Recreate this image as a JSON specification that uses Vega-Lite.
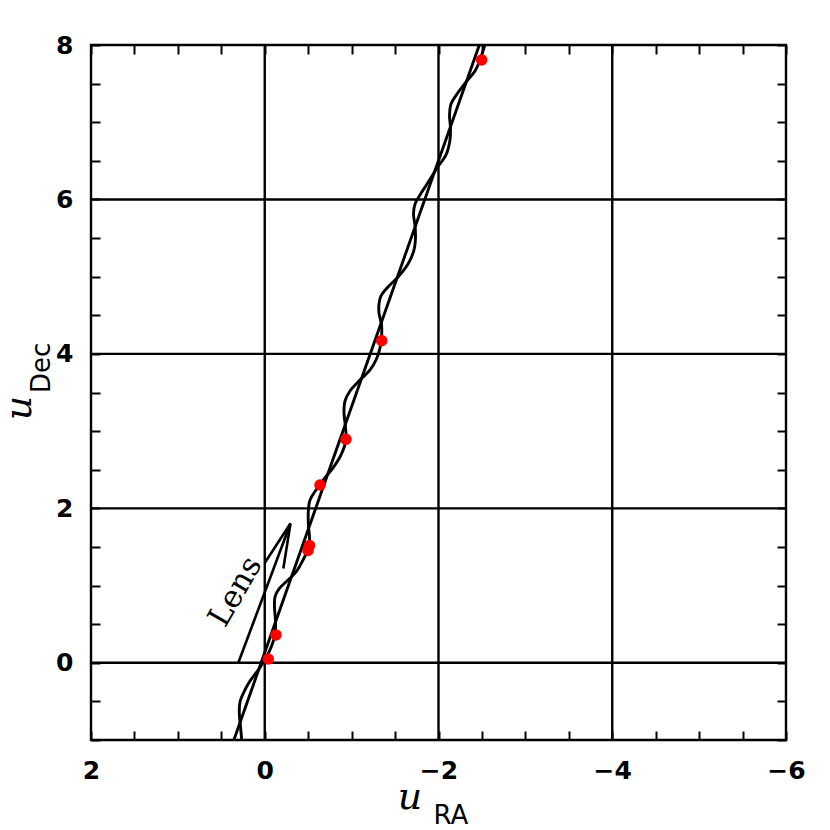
{
  "$schema": "https://vega.github.io/schema/vega-lite/v6.json",
  "width": 695,
  "height": 695,
  "autosize": {"type": "none"},
  "padding": {"left": 91, "top": 45, "right": 44, "bottom": 90},
  "background": "white",
  "config": {
    "view": {"stroke": "black", "strokeWidth": 2.4},
    "axis": {"labelColor": "black", "tickColor": "black", "domain": false, "grid": false}
  },
  "datasets": {
    "straight": [
      {"i": 0, "x": 0.365, "y": -1.03},
      {"i": 1, "x": -2.47, "y": 8.0},
      {"i": 2, "x": -2.5, "y": 8.1}
    ],
    "wavy": [
      {"i": 1, "x": 0.262, "y": -1.03},
      {"i": 2, "x": 0.279, "y": -0.831},
      {"i": 3, "x": 0.293, "y": -0.637},
      {"i": 4, "x": 0.285, "y": -0.508},
      {"i": 5, "x": 0.239, "y": -0.378},
      {"i": 6, "x": 0.170, "y": -0.236},
      {"i": 7, "x": 0.101, "y": -0.132},
      {"i": 8, "x": 0.043, "y": -0.041},
      {"i": 9, "x": -0.026, "y": 0.088},
      {"i": 10, "x": -0.083, "y": 0.231},
      {"i": 11, "x": -0.118, "y": 0.360},
      {"i": 12, "x": -0.124, "y": 0.541},
      {"i": 13, "x": -0.112, "y": 0.723},
      {"i": 14, "x": -0.118, "y": 0.852},
      {"i": 15, "x": -0.164, "y": 0.956},
      {"i": 16, "x": -0.268, "y": 1.072},
      {"i": 17, "x": -0.360, "y": 1.176},
      {"i": 18, "x": -0.452, "y": 1.357},
      {"i": 19, "x": -0.509, "y": 1.500},
      {"i": 20, "x": -0.515, "y": 1.629},
      {"i": 21, "x": -0.504, "y": 1.759},
      {"i": 22, "x": -0.501, "y": 1.953},
      {"i": 23, "x": -0.521, "y": 2.108},
      {"i": 24, "x": -0.590, "y": 2.238},
      {"i": 25, "x": -0.682, "y": 2.380},
      {"i": 26, "x": -0.786, "y": 2.523},
      {"i": 27, "x": -0.878, "y": 2.691},
      {"i": 28, "x": -0.935, "y": 2.885},
      {"i": 29, "x": -0.929, "y": 3.054},
      {"i": 30, "x": -0.912, "y": 3.248},
      {"i": 31, "x": -0.924, "y": 3.390},
      {"i": 32, "x": -0.981, "y": 3.520},
      {"i": 33, "x": -1.096, "y": 3.662},
      {"i": 34, "x": -1.212, "y": 3.792},
      {"i": 35, "x": -1.286, "y": 3.934},
      {"i": 36, "x": -1.327, "y": 4.077},
      {"i": 37, "x": -1.344, "y": 4.206},
      {"i": 38, "x": -1.344, "y": 4.375},
      {"i": 39, "x": -1.315, "y": 4.530},
      {"i": 40, "x": -1.315, "y": 4.646},
      {"i": 41, "x": -1.338, "y": 4.750},
      {"i": 42, "x": -1.419, "y": 4.867},
      {"i": 43, "x": -1.534, "y": 4.996},
      {"i": 44, "x": -1.649, "y": 5.164},
      {"i": 45, "x": -1.718, "y": 5.346},
      {"i": 46, "x": -1.735, "y": 5.501},
      {"i": 47, "x": -1.730, "y": 5.657},
      {"i": 48, "x": -1.712, "y": 5.812},
      {"i": 49, "x": -1.730, "y": 5.942},
      {"i": 50, "x": -1.787, "y": 6.058},
      {"i": 51, "x": -1.868, "y": 6.200},
      {"i": 52, "x": -1.983, "y": 6.408},
      {"i": 53, "x": -2.086, "y": 6.576},
      {"i": 54, "x": -2.132, "y": 6.770},
      {"i": 55, "x": -2.138, "y": 6.926},
      {"i": 56, "x": -2.127, "y": 7.081},
      {"i": 57, "x": -2.144, "y": 7.236},
      {"i": 58, "x": -2.213, "y": 7.366},
      {"i": 59, "x": -2.317, "y": 7.521},
      {"i": 60, "x": -2.420, "y": 7.664},
      {"i": 61, "x": -2.478, "y": 7.806},
      {"i": 62, "x": -2.535, "y": 8.000},
      {"i": 63, "x": -2.570, "y": 8.090}
    ],
    "points": [
      {"x": -0.041, "y": 0.049},
      {"x": -0.129, "y": 0.360},
      {"x": -0.515, "y": 1.519},
      {"x": -0.498, "y": 1.454},
      {"x": -0.636, "y": 2.302},
      {"x": -0.935, "y": 2.894},
      {"x": -1.346, "y": 4.171},
      {"x": -2.497, "y": 7.806}
    ],
    "arrow": [
      {"seg": "shaft", "i": 0, "x": 0.304, "y": 0.0},
      {"seg": "shaft", "i": 1, "x": -0.296, "y": 1.804},
      {"seg": "head", "i": 0, "x": -0.003, "y": 1.299},
      {"seg": "head", "i": 1, "x": -0.296, "y": 1.804},
      {"seg": "head", "i": 2, "x": -0.214, "y": 1.221}
    ],
    "gridx": [{"gx": 0}, {"gx": -2}, {"gx": -4}],
    "gridy": [{"gy": 0}, {"gy": 2}, {"gy": 4}, {"gy": 6}]
  },
  "resolve": {"axis": {"x": "independent", "y": "independent"}},
  "layer": [
    {
      "data": {"name": "gridx"},
      "mark": {"type": "rule", "color": "black", "strokeWidth": 2.4},
      "encoding": {
        "x": {"field": "gx", "type": "quantitative", "scale": {"domain": [2, -6], "nice": false, "zero": false},
          "axis": {"orient": "bottom", "title": null, "format": "~g",
            "values": [2, 1.5, 1, 0.5, 0, -0.5, -1, -1.5, -2, -2.5, -3, -3.5, -4, -4.5, -5, -5.5, -6],
            "tickSize": -9, "tickWidth": 2, "labelPadding": 27, "labelFlush": false, "labelOverlap": false,
            "labelFont": "DejaVu Sans", "labelFontSize": 25, "labelFontWeight": "bold",
            "labelExpr": "datum.value % 2 === 0 ? datum.label : ''"}}
      }
    },
    {
      "data": {"name": "gridy"},
      "mark": {"type": "rule", "color": "black", "strokeWidth": 2.4},
      "encoding": {
        "y": {"field": "gy", "type": "quantitative", "scale": {"domain": [-1, 8], "nice": false, "zero": false},
          "axis": {"orient": "left", "title": null, "format": "~g",
            "values": [-1, -0.5, 0, 0.5, 1, 1.5, 2, 2.5, 3, 3.5, 4, 4.5, 5, 5.5, 6, 6.5, 7, 7.5, 8],
            "tickSize": -9, "tickWidth": 2, "labelPadding": 27, "labelFlush": false, "labelOverlap": false,
            "labelFont": "DejaVu Sans", "labelFontSize": 25, "labelFontWeight": "bold",
            "labelExpr": "datum.value % 2 === 0 ? datum.label : ''"}}
      }
    },
    {
      "data": {"name": "straight"},
      "mark": {"type": "line", "color": "black", "strokeWidth": 2.9, "clip": true},
      "encoding": {
        "x": {"field": "x", "type": "quantitative",
          "axis": {"orient": "top", "title": null, "labels": false,
            "values": [2, 1.5, 1, 0.5, 0, -0.5, -1, -1.5, -2, -2.5, -3, -3.5, -4, -4.5, -5, -5.5, -6],
            "tickSize": -9, "tickWidth": 2}},
        "y": {"field": "y", "type": "quantitative",
          "axis": {"orient": "right", "title": null, "labels": false,
            "values": [-1, -0.5, 0, 0.5, 1, 1.5, 2, 2.5, 3, 3.5, 4, 4.5, 5, 5.5, 6, 6.5, 7, 7.5, 8],
            "tickSize": -9, "tickWidth": 2}},
        "order": {"field": "i", "type": "quantitative"}
      }
    },
    {
      "data": {"name": "wavy"},
      "mark": {"type": "line", "color": "black", "strokeWidth": 2.9, "clip": true, "interpolate": "catmull-rom"},
      "encoding": {
        "x": {"field": "x", "type": "quantitative", "axis": null},
        "y": {"field": "y", "type": "quantitative", "axis": null},
        "order": {"field": "i", "type": "quantitative"}
      }
    },
    {
      "data": {"name": "arrow"},
      "mark": {"type": "line", "color": "black", "strokeWidth": 2.6},
      "encoding": {
        "x": {"field": "x", "type": "quantitative", "axis": null},
        "y": {"field": "y", "type": "quantitative", "axis": null},
        "detail": {"field": "seg"},
        "order": {"field": "i", "type": "quantitative"}
      }
    },
    {
      "data": {"name": "points"},
      "mark": {"type": "circle", "color": "#ff0000", "opacity": 1, "size": 135},
      "encoding": {
        "x": {"field": "x", "type": "quantitative", "axis": null},
        "y": {"field": "y", "type": "quantitative", "axis": null}
      }
    },
    {
      "data": {"values": [{}]},
      "mark": {"type": "text", "text": "Lens", "font": "DejaVu Serif", "fontSize": 31, "angle": -60, "align": "center", "baseline": "middle", "color": "black"},
      "encoding": {
        "x": {"datum": 0.331, "type": "quantitative", "axis": null},
        "y": {"datum": 0.917, "type": "quantitative", "axis": null}
      }
    },
    {
      "data": {"values": [{}]},
      "mark": {"type": "text", "text": "u", "font": "DejaVu Serif", "fontStyle": "italic", "fontSize": 38, "align": "center", "baseline": "alphabetic", "color": "black"},
      "encoding": {
        "x": {"datum": -1.672, "type": "quantitative", "axis": null},
        "y": {"datum": -1.893, "type": "quantitative", "axis": null}
      }
    },
    {
      "data": {"values": [{}]},
      "mark": {"type": "text", "text": "RA", "font": "DejaVu Sans", "fontSize": 26, "align": "center", "baseline": "alphabetic", "color": "black"},
      "encoding": {
        "x": {"datum": -2.144, "type": "quantitative", "axis": null},
        "y": {"datum": -2.087, "type": "quantitative", "axis": null}
      }
    },
    {
      "data": {"values": [{}]},
      "mark": {"type": "text", "text": "u", "font": "DejaVu Serif", "fontStyle": "italic", "fontSize": 38, "angle": -90, "align": "center", "baseline": "alphabetic", "color": "black"},
      "encoding": {
        "x": {"datum": 2.69, "type": "quantitative", "axis": null},
        "y": {"datum": 3.3, "type": "quantitative", "axis": null}
      }
    },
    {
      "data": {"values": [{}]},
      "mark": {"type": "text", "text": "Dec", "font": "DejaVu Sans", "fontSize": 26, "angle": -90, "align": "center", "baseline": "alphabetic", "color": "black"},
      "encoding": {
        "x": {"datum": 2.472, "type": "quantitative", "axis": null},
        "y": {"datum": 3.818, "type": "quantitative", "axis": null}
      }
    }
  ]
}
